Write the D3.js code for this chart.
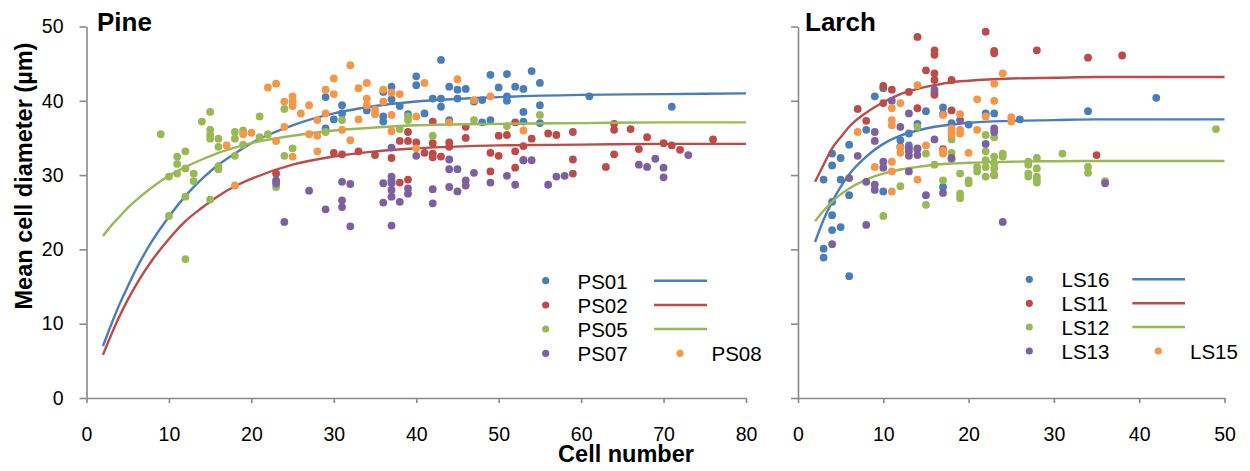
<!DOCTYPE html>
<html>
<head>
<meta charset="utf-8">
<script src="https://cdn.jsdelivr.net/npm/d3@7"></script>
<style>
  body { margin: 0; background: #fff; }
  svg { font-family: "Liberation Sans", Arial, sans-serif; }
</style>
</head>
<body>
<script>
// ---- data ----
const pineSeries = ['PS01', 'PS02', 'PS05', 'PS07', 'PS08'];
const larchSeries = ['LS16', 'LS11', 'LS12', 'LS13', 'LS15'];

const ps01 = [[29,40.5],[29,36.3],[30,37.5],[31,39.4],[31,38.3],[34,38.7],[36,41.2],[36,37.9],[36,37.2],[37,41.9],[37,40.2],[38,39.3],[39,38.2],[40,43.3],[40,42.1],[41,38.3],[42,40.3],[43,45.5],[43,40.3],[43,39.2],[44,41.9],[44,37.4],[45,41.5],[45,40.3],[46,41.6],[47,39.9],[48,40.1],[48,37.1],[49,43.5],[49,37.4],[50,41.8],[51,43.6],[51,40.6],[51,40.0],[52,41.9],[53,41.6],[53,38.5],[53,37.2],[54,44.0],[55,42.4],[55,39.4],[55,37.0],[61,40.6],[71,39.2]];
const ps02 = [[23,30.2],[30,33.0],[31,32.8],[33,33.2],[35,32.7],[37,32.3],[38,34.6],[38,29.0],[39,35.8],[39,34.6],[39,29.4],[40,34.4],[41,33.0],[42,37.2],[42,34.3],[42,32.9],[42,32.4],[43,32.5],[44,34.4],[44,33.8],[46,36.5],[46,35.0],[49,33.0],[49,30.5],[50,35.3],[50,32.6],[51,35.4],[52,37.1],[52,33.2],[52,31.0],[53,33.9],[53,32.0],[54,34.9],[56,35.6],[57,35.4],[59,35.8],[59,32.1],[59,30.2],[63,31.1],[64,36.9],[64,36.1],[64,32.8],[66,36.2],[67,33.5],[68,35.1],[70,34.3],[71,34.0],[72,33.4],[76,34.8]];
const ps05 = [[9,35.5],[10,29.8],[10,24.5],[11,32.5],[11,31.5],[11,30.2],[12,33.2],[12,30.9],[12,27.1],[12,18.7],[13,30.2],[13,29.2],[14,37.2],[15,38.5],[15,36.1],[15,35.4],[15,34.9],[15,26.7],[16,34.9],[16,33.8],[16,31.2],[16,30.8],[18,35.8],[18,34.9],[18,32.6],[19,36.0],[19,34.1],[21,37.9],[21,35.1],[22,35.5],[23,28.4],[24,38.9],[24,32.6],[25,33.6],[29,35.8],[31,37.4],[38,36.2],[39,37.9],[39,37.4],[42,35.3],[47,37.4],[51,36.6],[55,38.1]];
const ps07 = [[23,29.3],[23,28.9],[24,23.7],[27,27.9],[29,25.4],[31,29.1],[31,26.6],[31,25.7],[32,28.8],[32,23.1],[36,28.9],[36,26.3],[37,33.7],[37,29.8],[37,29.3],[37,28.9],[37,28.0],[37,27.1],[37,23.2],[38,26.4],[39,28.2],[39,27.5],[40,32.6],[42,28.1],[42,26.2],[44,32.1],[44,30.8],[44,28.4],[45,30.8],[45,27.8],[46,29.3],[46,28.6],[47,30.3],[49,29.0],[51,29.9],[52,28.7],[53,32.0],[54,32.0],[56,28.7],[57,29.8],[58,29.9],[67,31.4],[68,31.1],[69,32.2],[70,31.0],[70,29.7],[73,32.7]];
const ps08 = [[17,34.0],[18,28.6],[19,35.5],[20,35.7],[22,41.8],[23,42.3],[23,34.6],[24,39.9],[24,36.5],[25,40.6],[25,39.9],[25,39.3],[25,32.5],[26,38.3],[27,39.4],[27,35.5],[28,37.4],[28,35.3],[28,33.2],[29,41.5],[29,38.3],[30,43.0],[30,40.9],[31,36.1],[32,44.8],[32,34.7],[33,41.7],[33,37.5],[34,42.4],[34,40.3],[34,39.4],[35,38.8],[35,38.2],[36,41.5],[36,39.9],[37,41.1],[37,38.1],[37,35.9],[38,40.9],[40,37.9],[40,33.6],[41,42.4],[44,37.1],[45,42.9],[47,40.1],[49,40.6],[53,36.0]];

const ls16 = [[3,29.4],[3,20.1],[3,18.9],[4,32.9],[4,31.3],[4,26.4],[4,24.6],[4,22.6],[5,32.3],[5,29.4],[5,23.0],[6,34.1],[6,27.3],[6,16.4],[8,36.1],[9,40.6],[10,41.7],[10,27.8],[12,34.7],[13,35.6],[13,34.0],[14,36.9],[15,38.6],[17,39.1],[17,28.4],[18,37.0],[20,36.8],[22,38.3],[23,38.3],[26,37.5],[34,38.6],[42,40.4]];
const ls11 = [[7,38.9],[8,37.3],[10,42.0],[10,39.7],[11,41.5],[12,33.8],[13,41.2],[14,48.6],[14,39.0],[14,33.6],[15,44.1],[16,46.8],[16,46.2],[16,43.7],[16,42.8],[16,41.1],[16,40.8],[17,33.5],[18,42.8],[18,38.7],[22,49.3],[23,46.7],[23,46.4],[23,30.0],[28,46.8],[34,45.8],[35,32.7],[38,46.1]];
const ls12 = [[10,24.5],[12,28.5],[14,36.5],[15,32.9],[15,26.0],[16,31.4],[17,33.2],[17,29.3],[18,35.8],[18,34.8],[18,33.0],[18,32.1],[19,30.2],[19,27.5],[19,26.9],[20,29.3],[20,28.9],[21,31.1],[21,30.5],[22,35.4],[22,33.2],[22,32.0],[22,31.1],[22,29.8],[23,35.1],[23,32.5],[23,31.6],[23,30.9],[23,30.0],[24,32.9],[24,32.5],[27,31.8],[27,31.4],[27,30.2],[27,29.8],[28,32.3],[28,30.9],[28,29.8],[28,29.3],[28,29.0],[31,32.9],[34,31.1],[34,30.3],[36,29.2],[49,36.2]];
const ls13 = [[4,20.7],[6,29.6],[7,32.6],[8,29.1],[8,23.3],[9,35.8],[9,34.6],[9,28.7],[9,28.0],[10,31.8],[10,31.0],[11,40.0],[12,36.5],[13,38.3],[13,33.6],[13,33.2],[13,32.6],[13,30.5],[14,33.5],[14,32.7],[15,27.3],[16,41.5],[16,34.8],[17,38.2],[17,27.6],[18,32.3],[19,37.4],[22,34.2],[23,36.3],[23,35.8],[24,23.7],[36,28.9]];
const ls15 = [[7,35.8],[9,31.1],[11,39.0],[11,37.4],[11,36.7],[11,31.8],[11,30.5],[11,27.8],[12,39.7],[12,33.7],[12,33.0],[14,42.1],[14,29.4],[15,34.0],[17,38.1],[17,33.3],[17,32.9],[18,36.3],[18,35.4],[19,38.2],[19,36.1],[19,35.6],[20,33.0],[21,40.2],[21,36.1],[22,37.9],[23,42.3],[23,40.0],[24,43.7],[25,37.8],[25,37.2]];

// fitted curves, read at these cell numbers
const pineFitX = [2, 3, 4, 5, 6, 8, 10, 12, 14, 16, 18, 20, 25, 30, 35, 40, 50, 60, 70, 80];
const ps01Fit = [7.0, 9.9, 12.6, 15.0, 17.3, 21.2, 24.4, 27.2, 29.5, 31.4, 32.9, 34.3, 36.7, 38.3, 39.3, 39.9, 40.5, 40.8, 40.9, 41.0];
const ps02Fit = [5.8, 8.5, 11.0, 13.2, 15.2, 18.6, 21.4, 23.8, 25.6, 27.2, 28.5, 29.5, 31.4, 32.5, 33.2, 33.6, 34.0, 34.1, 34.2, 34.2];
const ps05Fit = [21.8, 23.2, 24.4, 25.6, 26.6, 28.4, 29.9, 31.1, 32.1, 33.0, 33.7, 34.3, 35.3, 36.0, 36.4, 36.7, 36.9, 37.0, 37.1, 37.1];

const larchFitX = [2, 3, 4, 5, 6, 8, 10, 12, 14, 16, 18, 20, 25, 30, 35, 40, 50];
const ls16Fit = [21.0, 24.0, 26.4, 28.4, 30.1, 32.5, 34.2, 35.3, 36.0, 36.5, 36.8, 37.05, 37.3, 37.4, 37.5, 37.5, 37.5];
const ls11Fit = [29.1, 31.4, 33.6, 35.1, 36.5, 38.4, 39.8, 40.9, 41.6, 42.1, 42.5, 42.7, 43.0, 43.1, 43.2, 43.2, 43.2];
const ls12Fit = [23.8, 25.2, 26.4, 27.4, 28.2, 29.4, 30.2, 30.75, 31.1, 31.4, 31.55, 31.66, 31.8, 31.87, 31.9, 31.9, 31.9];

const yTicks = [0, 10, 20, 30, 40, 50];
const pineXTicks = [0, 10, 20, 30, 40, 50, 60, 70, 80];
const larchXTicks = [0, 10, 20, 30, 40, 50];

// ---- styling ----
const colors = ['#4A7EBB', '#BE4B48', '#98B954', '#7D60A0', '#F79646'];
const axisColor = '#898989';

const svg = d3.select('body')
  .append('svg')
  .attr('width', 1250)
  .attr('height', 471);

const yScale = d3.scaleLinear().domain([0, 50]).range([398, 26.5]);

function drawPanel(opts) {
  const xScale = d3.scaleLinear().domain(opts.xDomain).range(opts.xRange);
  const g = svg.append('g');

  // axes
  const xAxis = d3.axisBottom(xScale)
    .tickValues(opts.xTicks)
    .tickSize(5)
    .tickSizeOuter(0)
    .tickPadding(24);
  const xg = g.append('g')
    .attr('transform', 'translate(0,398)')
    .call(xAxis);

  const yAxis = d3.axisLeft(yScale)
    .tickValues(yTicks)
    .tickSize(7)
    .tickSizeOuter(0)
    .tickPadding(16)
    .tickFormat(opts.yLabels ? d3.format('d') : () => '');
  const yg = g.append('g')
    .attr('transform', `translate(${opts.xRange[0]},0)`)
    .call(yAxis);

  [xg, yg].forEach(a => {
    a.selectAll('path, line').attr('stroke', axisColor).attr('stroke-width', 1.6);
    a.selectAll('text')
      .attr('fill', '#000')
      .style('font-size', '19.5px')
      .style('font-family', '"Liberation Sans", Arial, sans-serif');
  });

  const line = d3.line()
    .x(d => xScale(d[0]))
    .y(d => yScale(d[1]))
    .curve(d3.curveMonotoneX);

  // series in Excel order: points, then its fitted line
  opts.points.forEach((pts, i) => {
    g.append('g')
      .selectAll('circle')
      .data(pts)
      .enter()
      .append('circle')
      .attr('cx', d => xScale(d[0]))
      .attr('cy', d => yScale(d[1]))
      .attr('r', 3.9)
      .attr('fill', colors[i]);

    if (opts.fits[i]) {
      g.append('path')
        .datum(opts.fitX.map((x, k) => [x, opts.fits[i][k]]))
        .attr('fill', 'none')
        .attr('stroke', colors[i])
        .attr('stroke-width', 2.4)
        .attr('d', line);
    }
  });

  // panel title
  g.append('text')
    .attr('x', opts.title.x)
    .attr('y', 31)
    .style('font-size', '26px')
    .style('font-weight', 'bold')
    .text(opts.title.text);

  // legend
  const lg = g.append('g');
  const L = opts.legend;
  opts.names.forEach((name, i) => {
    let mx, tx, ly;
    if (i < 4) {
      mx = L.markerX; tx = L.textX; ly = L.rows[i];
    } else {
      mx = L.marker2X; tx = L.text2X; ly = L.rows[3];
    }
    lg.append('circle')
      .attr('cx', mx)
      .attr('cy', ly)
      .attr('r', 3.6)
      .attr('fill', colors[i]);
    lg.append('text')
      .attr('x', tx)
      .attr('y', ly + 8)
      .style('font-size', '20.5px')
      .text(name);
    if (i < 3) {
      lg.append('line')
        .attr('x1', L.lineX[0])
        .attr('x2', L.lineX[1])
        .attr('y1', ly)
        .attr('y2', ly)
        .attr('stroke', colors[i])
        .attr('stroke-width', 2.6);
    }
  });
}

drawPanel({
  xDomain: [0, 80],
  xRange: [86.5, 746],
  xTicks: pineXTicks,
  yLabels: true,
  points: [ps01, ps02, ps05, ps07, ps08],
  fits: [ps01Fit, ps02Fit, ps05Fit],
  fitX: pineFitX,
  names: pineSeries,
  title: { text: 'Pine', x: 97 },
  legend: { markerX: 545.7, textX: 577.5, marker2X: 680, text2X: 711.5, lineX: [654, 707], rows: [280.7, 305, 329, 353.3] }
});

drawPanel({
  xDomain: [0, 50],
  xRange: [798, 1224.5],
  xTicks: larchXTicks,
  yLabels: false,
  points: [ls16, ls11, ls12, ls13, ls15],
  fits: [ls16Fit, ls11Fit, ls12Fit],
  fitX: larchFitX,
  names: larchSeries,
  title: { text: 'Larch', x: 805 },
  legend: { markerX: 1029.3, textX: 1061.5, marker2X: 1158.3, text2X: 1190, lineX: [1132.3, 1185], rows: [279.3, 303.3, 327, 351] }
});

// axis titles
svg.append('text')
  .attr('transform', 'translate(31.5,176) rotate(-90)')
  .attr('text-anchor', 'middle')
  .style('font-size', '23.5px')
  .style('font-weight', 'bold')
  .text('Mean cell diameter (µm)');

svg.append('text')
  .attr('x', 626)
  .attr('y', 462)
  .attr('text-anchor', 'middle')
  .style('font-size', '23.5px')
  .style('font-weight', 'bold')
  .text('Cell number');
</script>
</body>
</html>
